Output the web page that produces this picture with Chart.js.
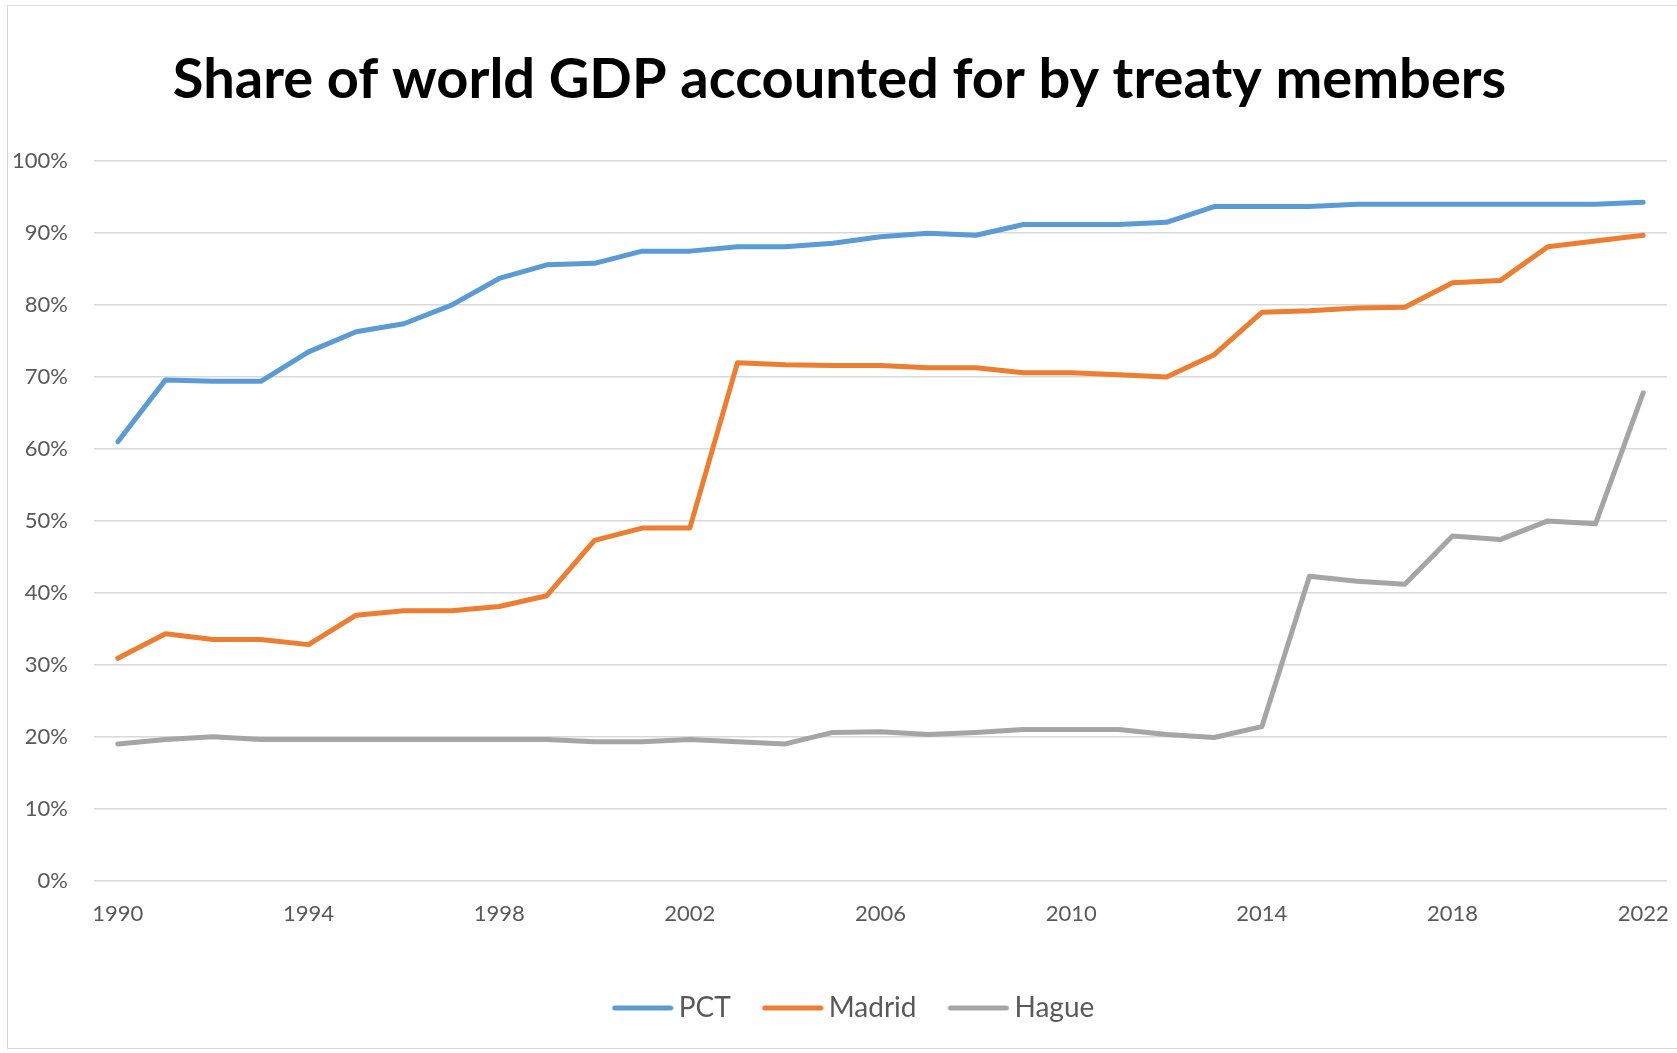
<!DOCTYPE html>
<html lang="en">

<head>
    <meta charset="UTF-8">
    <title>Share of world GDP accounted for by treaty members</title>
    <script src="https://cdn.jsdelivr.net/npm/chart.js"></script>
    <style>
        html, body { margin: 0; padding: 0; background: #ffffff; }
        .wrap { position: relative; width: 1677px; height: 1053px; overflow: hidden; }
        .frame { position: absolute; left: 7px; top: 5px; width: 1680px; height: 1044px; border: 1px solid #d9d9d9; box-sizing: border-box; pointer-events: none; }
    </style>
</head>

<body>
    <div class="wrap">
        <canvas id="graficoTratados"></canvas>
        <div class="frame"></div>
    </div>
</body>

</html>
<script>
    var anos = ['1990', '1991', '1992', '1993', '1994', '1995', '1996', '1997', '1998', '1999',
        '2000', '2001', '2002', '2003', '2004', '2005', '2006', '2007', '2008', '2009',
        '2010', '2011', '2012', '2013', '2014', '2015', '2016', '2017', '2018', '2019',
        '2020', '2021', '2022'];

    var pct = [61.0, 69.6, 69.4, 69.4, 73.5, 76.3, 77.4, 80.0, 83.7, 85.6,
        85.8, 87.5, 87.5, 88.1, 88.1, 88.6, 89.5, 90.0, 89.7, 91.2,
        91.2, 91.2, 91.5, 93.7, 93.7, 93.7, 94.0, 94.0, 94.0, 94.0,
        94.0, 94.0, 94.3];

    var madrid = [30.9, 34.3, 33.5, 33.5, 32.8, 36.9, 37.5, 37.5, 38.1, 39.6,
        47.3, 49.0, 49.0, 72.0, 71.7, 71.6, 71.6, 71.3, 71.3, 70.6,
        70.6, 70.3, 70.0, 73.1, 79.0, 79.2, 79.6, 79.7, 83.1, 83.4,
        88.1, 88.9, 89.7];

    var hague = [19.0, 19.6, 20.0, 19.6, 19.6, 19.6, 19.6, 19.6, 19.6, 19.6,
        19.3, 19.3, 19.6, 19.3, 19.0, 20.6, 20.7, 20.3, 20.6, 21.0,
        21.0, 21.0, 20.3, 19.9, 21.4, 42.3, 41.6, 41.2, 47.9, 47.4,
        50.0, 49.6, 67.8];

    var fonte = 'Lato, "Open Sans", sans-serif';
    var cinza = '#595959';

    function serie(nome, valores, cor) {
        return {
            label: nome,
            data: valores,
            borderColor: cor,
            backgroundColor: cor,
            borderWidth: 5,
            borderCapStyle: 'round',
            borderJoinStyle: 'round',
            pointRadius: 0,
            pointHoverRadius: 0,
            tension: 0,
            fill: false
        };
    }

    // traço da legenda, mais largo que a caixa para o texto ficar colado
    function tracoLegenda(cor) {
        var c = document.createElement('canvas');
        c.width = 62;
        c.height = 8;
        var g = c.getContext('2d');
        g.strokeStyle = cor;
        g.lineWidth = 5;
        g.lineCap = 'round';
        g.beginPath();
        g.moveTo(3, 4);
        g.lineTo(59, 4);
        g.stroke();
        return c;
    }

    // empurra a legenda um pouco para a direita, como no original
    var ajusteLegenda = {
        id: 'ajusteLegenda',
        afterLayout: function (chart) {
            if (chart.legend) {
                chart.legend.left += 18;
                chart.legend.right += 18;
            }
        }
    };

    new Chart(document.getElementById('graficoTratados'), {
        type: 'line',
        data: {
            labels: anos,
            datasets: [
                serie('PCT', pct, '#5b9bd5'),
                serie('Madrid', madrid, '#ed7d31'),
                serie('Hague', hague, '#a5a5a5')
            ]
        },
        plugins: [ajusteLegenda],
        options: {
            responsive: true,
            maintainAspectRatio: false,
            animation: false,
            layout: {
                padding: { left: 12, right: 10, top: 0, bottom: 21 }
            },
            scales: {
                x: {
                    offset: true,
                    grid: { display: false },
                    border: { display: false },
                    ticks: {
                        color: cinza,
                        font: { family: fonte, size: 22 },
                        padding: 12,
                        autoSkip: false,
                        maxRotation: 0,
                        callback: function (v, i) {
                            return i % 4 === 0 ? anos[i] : null;
                        }
                    },
                    afterFit: function (escala) {
                        // sem folga lateral extra, espaço a mais antes da legenda
                        escala.paddingLeft = 0;
                        escala.paddingRight = 0;
                        escala.height = escala.height + 15;
                    }
                },
                y: {
                    min: 0,
                    max: 100,
                    border: { display: false },
                    grid: { color: '#d9d9d9', lineWidth: 1.5, drawTicks: false },
                    ticks: {
                        stepSize: 10,
                        color: cinza,
                        font: { family: fonte, size: 22 },
                        padding: 26,
                        callback: function (v) { return v + '%'; }
                    },
                    afterFit: function (escala) {
                        escala.width = 82;
                    }
                }
            },
            plugins: {
                title: {
                    display: true,
                    text: 'Share of world GDP accounted for by treaty members',
                    color: '#000000',
                    font: { family: fonte, size: 56, weight: 'bold' },
                    padding: { top: 46, bottom: 48 }
                },
                legend: {
                    position: 'bottom',
                    labels: {
                        color: cinza,
                        font: { family: fonte, size: 28 },
                        usePointStyle: true,
                        pointStyleWidth: 44,
                        padding: 40,
                        generateLabels: function (chart) {
                            var itens = Chart.defaults.plugins.legend.labels.generateLabels(chart);
                            itens.forEach(function (item) {
                                item.pointStyle = tracoLegenda(chart.data.datasets[item.datasetIndex].borderColor);
                            });
                            return itens;
                        }
                    }
                },
                tooltip: { enabled: false }
            }
        }
    });
</script>
